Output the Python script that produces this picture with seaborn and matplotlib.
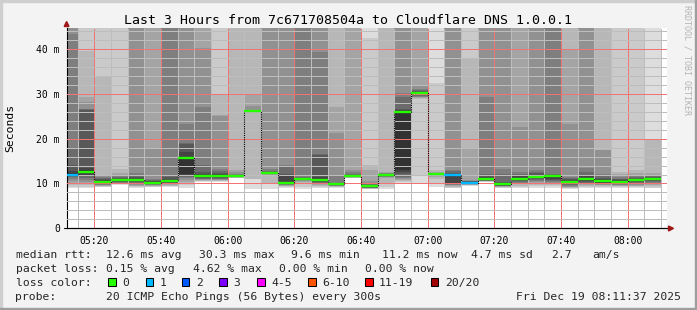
import matplotlib
matplotlib.use("Agg")
import matplotlib.pyplot as plt
import seaborn as sns
from matplotlib.patches import Rectangle, Polygon
from matplotlib.lines import Line2D
from matplotlib.ticker import MultipleLocator

# ---------------- data ----------------
title_text = "Last 3 Hours from 7c671708504a to Cloudflare DNS 1.0.0.1"
window_start = "05:11:37"
window_end = "08:11:37"
slot_minutes = 5
y_top_ms = 44.7
y_ticks_ms = [0, 10, 20, 30, 40]
y_tick_labels = ["0", "10 m", "20 m", "30 m", "40 m"]
x_tick_labels = ["05:20", "05:40", "06:00", "06:20", "06:40", "07:00", "07:20", "07:40", "08:00"]

slot_times = ["05:10", "05:15", "05:20", "05:25", "05:30", "05:35", "05:40", "05:45", "05:50",
              "05:55", "06:00", "06:05", "06:10", "06:15", "06:20", "06:25", "06:30", "06:35",
              "06:40", "06:45", "06:50", "06:55", "07:00", "07:05", "07:10", "07:15", "07:20",
              "07:25", "07:30", "07:35", "07:40", "07:45", "07:50", "07:55", "08:00", "08:05"]

median_rtt = [12.0, 12.6, 10.3, 10.7, 10.85, 10.2, 10.6, 15.8, 11.7, 11.7, 11.7, 26.25,
              12.4, 10.2, 11.1, 10.8, 9.9, 11.7, 9.4, 11.9, 26.0, 30.3, 12.05, 12.0,
              10.2, 11.0, 9.8, 11.1, 11.5, 11.7, 10.4, 11.0, 10.55, 10.3, 10.8, 11.1]

loss_count = [1, 0, 0, 0, 0, 0, 0, 0, 0, 0, 0, 0, 0, 0, 0, 0, 0, 0,
              0, 0, 0, 0, 0, 1, 1, 0, 0, 0, 0, 0, 0, 0, 0, 0, 0, 0]

# 20 sorted ping RTTs (ms) per 5-minute slot; 60 = beyond the top of the graph
pings_0510 = [9.0, 9.3, 9.6, 10.0, 10.5, 11.0, 11.4, 11.7, 11.9, 12.0, 12.3, 12.8, 14.1, 17.6, 43.4, 60, 60, 60, 60, 60]
pings_0515 = [8.9, 9.2, 9.6, 10.0, 10.4, 10.8, 11.2, 11.6, 12.0, 12.4, 12.9, 13.5, 26.5, 26.6, 26.7, 28.2, 29.4, 39.6, 60, 60]
pings_0520 = [9.2, 9.3, 9.4, 9.5, 9.6, 9.7, 9.8, 9.9, 10.0, 10.2, 10.5, 10.8, 11.0, 11.3, 11.5, 11.7, 12.0, 33.8, 60, 60]
pings_0525 = [9.6, 9.8, 9.9, 10.0, 10.1, 10.2, 10.3, 10.4, 10.5, 10.6, 10.8, 11.0, 11.2, 11.4, 11.7, 12.0, 12.4, 13.2, 60, 60]
pings_0530 = [9.0, 9.2, 9.4, 9.5, 9.7, 9.9, 10.1, 10.3, 10.5, 10.7, 11.0, 11.2, 11.5, 11.9, 12.4, 60, 60, 60, 60, 60]
pings_0535 = [9.2, 9.3, 9.4, 9.5, 9.6, 9.7, 9.8, 9.9, 10.0, 10.1, 10.3, 10.5, 10.6, 10.7, 10.9, 18.0, 60, 60, 60, 60]
pings_0540 = [9.2, 9.4, 9.5, 9.6, 9.8, 9.9, 10.0, 10.1, 10.3, 10.5, 10.8, 11.1, 11.4, 11.9, 60, 60, 60, 60, 60, 60]
pings_0545 = [9.1, 9.6, 10.0, 10.4, 10.8, 11.2, 11.5, 11.8, 12.0, 12.2, 16.0, 17.0, 18.8, 19.1, 23.3, 60, 60, 60, 60, 60]
pings_0550 = [10.3, 10.5, 10.6, 10.7, 10.8, 10.9, 11.0, 11.2, 11.4, 11.6, 11.9, 12.2, 12.6, 14.1, 27.1, 40.3, 60, 60, 60, 60]
pings_0555 = [10.3, 10.5, 10.6, 10.7, 10.8, 10.9, 11.0, 11.2, 11.4, 11.6, 11.9, 12.1, 12.4, 12.8, 13.3, 25.0, 25.2, 29.9, 60, 60]
pings_0600 = [11.2, 11.25, 11.3, 11.35, 11.4, 11.45, 11.5, 11.55, 11.6, 11.65, 11.75, 11.8, 11.9, 12.0, 12.2, 12.5, 13.0, 60, 60, 60]
pings_0605 = [8.8, 11.0, 11.1, 25.9, 26.0, 26.05, 26.1, 26.15, 26.2, 26.23, 26.27, 26.3, 26.35, 26.4, 26.5, 27.3, 29.9, 60, 60, 60]
pings_0610 = [8.8, 10.1, 10.2, 12.0, 12.05, 12.1, 12.15, 12.2, 12.3, 12.35, 12.45, 12.5, 12.6, 12.8, 13.2, 60, 60, 60, 60, 60]
pings_0615 = [9.1, 9.25, 9.4, 9.5, 9.6, 9.7, 9.8, 9.9, 10.0, 10.1, 10.4, 12.0, 12.05, 14.0, 14.1, 60, 60, 60, 60, 60]
pings_0620 = [8.8, 9.3, 10.0, 10.4, 10.6, 10.7, 10.8, 10.9, 11.0, 11.05, 11.15, 11.2, 11.3, 11.4, 60, 60, 60, 60, 60, 60]
pings_0625 = [9.1, 9.3, 9.5, 9.7, 9.9, 10.0, 10.1, 10.3, 10.5, 10.7, 11.0, 11.5, 16.3, 16.5, 39.4, 60, 60, 60, 60, 60]
pings_0630 = [9.1, 9.2, 9.3, 9.35, 9.4, 9.5, 9.6, 9.7, 9.8, 9.85, 9.95, 10.0, 10.1, 10.2, 11.9, 21.3, 27.1, 60, 60, 60]
pings_0635 = [11.2, 11.25, 11.3, 11.35, 11.4, 11.45, 11.5, 11.55, 11.6, 11.65, 11.8, 11.9, 12.0, 12.2, 12.5, 13.0, 60, 60, 60, 60]
pings_0640 = [8.7, 8.8, 8.85, 8.9, 8.95, 9.0, 9.1, 9.2, 9.3, 9.35, 9.5, 9.6, 9.7, 9.8, 10.0, 10.5, 13.0, 14.1, 42.4, 60]
pings_0645 = [8.7, 9.2, 9.8, 11.3, 11.4, 11.5, 11.6, 11.7, 11.8, 11.85, 11.95, 12.0, 12.1, 12.2, 12.3, 12.4, 12.6, 60, 60, 60]
pings_0650 = [10.2, 10.4, 10.6, 10.8, 11.0, 11.2, 11.5, 12.2, 12.6, 12.9, 26.1, 26.3, 26.6, 29.2, 30.3, 60, 60, 60, 60, 60]
pings_0655 = [10.2, 11.9, 28.8, 29.0, 29.2, 29.4, 29.6, 29.8, 30.0, 30.2, 30.4, 30.5, 30.6, 30.8, 31.0, 31.8, 60, 60, 60, 60]
pings_0700 = [9.3, 10.0, 11.0, 11.5, 11.6, 11.7, 11.8, 11.9, 12.0, 12.03, 12.07, 12.1, 12.15, 12.2, 12.3, 12.4, 12.6, 13.0, 32.4, 60]
pings_0705 = [8.9, 9.1, 9.3, 9.5, 9.6, 9.7, 9.8, 9.9, 10.0, 11.9, 12.1, 12.2, 12.4, 12.7, 13.0, 60, 60, 60, 60, 60]
pings_0710 = [9.5, 9.6, 9.7, 9.75, 9.8, 9.85, 9.9, 9.95, 10.0, 10.1, 10.3, 10.4, 10.45, 10.5, 10.6, 10.8, 17.9, 37.9, 60, 60]
pings_0715 = [10.3, 10.4, 10.45, 10.5, 10.55, 10.6, 10.65, 10.7, 10.8, 10.9, 11.2, 11.5, 11.8, 12.1, 29.2, 60, 60, 60, 60, 60]
pings_0720 = [8.9, 9.1, 9.2, 9.3, 9.35, 9.4, 9.45, 9.5, 9.6, 9.7, 9.9, 10.1, 10.3, 12.1, 13.2, 60, 60, 60, 60, 60]
pings_0725 = [8.9, 9.2, 9.5, 9.8, 10.0, 10.2, 10.4, 10.6, 10.8, 11.0, 11.3, 11.6, 11.9, 12.2, 12.6, 22.7, 60, 60, 60, 60]
pings_0730 = [9.1, 9.4, 9.7, 10.0, 10.3, 10.6, 10.8, 11.0, 11.2, 11.4, 11.7, 12.0, 12.3, 12.6, 12.9, 60, 60, 60, 60, 60]
pings_0735 = [9.1, 9.4, 9.7, 10.0, 10.2, 10.4, 10.6, 10.8, 11.0, 11.6, 11.8, 11.9, 12.0, 12.1, 60, 60, 60, 60, 60, 60]
pings_0740 = [8.7, 8.9, 9.0, 9.2, 9.3, 9.5, 9.7, 9.9, 10.1, 10.3, 10.6, 10.8, 11.0, 11.2, 11.5, 23.3, 40.0, 60, 60, 60]
pings_0745 = [8.9, 9.2, 9.4, 9.6, 9.8, 10.0, 10.2, 10.4, 10.6, 10.9, 11.2, 11.6, 12.0, 12.5, 13.4, 60, 60, 60, 60, 60]
pings_0750 = [9.1, 9.3, 9.5, 9.6, 9.7, 9.8, 9.9, 10.0, 10.2, 10.4, 10.7, 11.0, 11.3, 11.6, 12.1, 17.4, 17.5, 60, 60, 60]
pings_0755 = [9.1, 9.25, 9.4, 9.5, 9.6, 9.7, 9.8, 9.9, 10.0, 10.2, 10.5, 10.7, 10.9, 11.1, 11.4, 11.8, 12.2, 12.6, 60, 60]
pings_0800 = [9.1, 9.25, 9.4, 9.5, 9.7, 9.9, 10.1, 10.3, 10.5, 10.7, 10.9, 11.0, 11.2, 11.4, 11.7, 12.0, 12.4, 12.9, 60, 60]
pings_0805 = [8.9, 9.1, 9.4, 9.7, 10.0, 10.2, 10.4, 10.6, 10.8, 11.0, 11.2, 11.3, 11.4, 11.6, 11.8, 12.0, 12.3, 19.8, 19.9, 60]

slot_pings = [pings_0510, pings_0515, pings_0520, pings_0525, pings_0530, pings_0535,
              pings_0540, pings_0545, pings_0550, pings_0555, pings_0600, pings_0605,
              pings_0610, pings_0615, pings_0620, pings_0625, pings_0630, pings_0635,
              pings_0640, pings_0645, pings_0650, pings_0655, pings_0700, pings_0705,
              pings_0710, pings_0715, pings_0720, pings_0725, pings_0730, pings_0735,
              pings_0740, pings_0745, pings_0750, pings_0755, pings_0800, pings_0805]

loss_legend_labels = ["0", "1", "2", "3", "4-5", "6-10", "11-19", "20/20"]
loss_legend_colors = ["#26ff00", "#00b8ff", "#0059ff", "#7e00ff", "#ff00ff", "#ff5500", "#ff0000", "#a00000"]

median_stats = ["12.6 ms avg", "30.3 ms max", "9.6 ms min", "11.2 ms now", "4.7 ms sd", "2.7", "am/s"]
loss_stats = ["0.15 % avg", "4.62 % max", "0.00 % min", "0.00 % now"]
probe_text = "20 ICMP Echo Pings (56 Bytes) every 300s"
stamp_text = "Fri Dec 19 08:11:37 2025"
watermark = "RRDTOOL / TOBI OETIKER"

# ---------------- helpers ----------------
def to_minutes(hhmm):
    parts = [int(v) for v in hhmm.split(":")]
    sec = parts[2] if len(parts) > 2 else 0
    return (parts[0] - 5) * 60 + parts[1] + sec / 60.0


def smoke_gray(band, n):
    half = n / 2.0
    ibot = min(band + 1, n - 1 - band)
    v = int(190.0 / half * (half - ibot)) + 50
    return "#%02x%02x%02x" % (v, v, v)


def loss_color(n):
    if n <= 3:
        return loss_legend_colors[n]
    if n <= 5:
        return loss_legend_colors[4]
    if n <= 10:
        return loss_legend_colors[5]
    if n <= 19:
        return loss_legend_colors[6]
    return loss_legend_colors[7]

# ---------------- figure ----------------
sns.set_theme(style="white")
MONO = ["DejaVu Sans Mono", "DejaVu Sans"]
plt.rcParams["font.family"] = MONO

W, H = 697, 310
fig = plt.figure(figsize=(W / 100, H / 100), dpi=100, facecolor="#f3f3f3")


def fx(x):
    return x / W


def fy(y):
    return 1 - y / H


L, R, T, B = 66.5, 666.5, 28.0, 228.3
ax = fig.add_axes([fx(L), fy(B), fx(R) - fx(L), fy(T) - fy(B)])
ax.set_facecolor("white")

starts = [to_minutes(t) for t in slot_times]

# smoke
for x0, pings in zip(starts, slot_pings):
    p = sorted(pings)
    n = len(p)
    for j in range(n - 1):
        lo, hi = p[j], p[j + 1]
        if hi > lo:
            ax.bar(x0, hi - lo, bottom=lo, width=slot_minutes, align="edge",
                   color=smoke_gray(j, n), linewidth=0, antialiased=False, zorder=1)

# median outline (steps) and loss-coloured median segments
step_x = starts + [starts[-1] + slot_minutes]
step_y = median_rtt + [median_rtt[-1]]
sns.lineplot(x=step_x, y=step_y, drawstyle="steps-post", color="black", linewidth=0.8,
             linestyle=(0, (1, 1)), ax=ax, estimator=None, sort=False, zorder=4)
ax.hlines(median_rtt, starts, [s + slot_minutes for s in starts],
          colors=[loss_color(c) for c in loss_count], linewidth=1.7, zorder=5)

ax.set_xlim(to_minutes(window_start), to_minutes(window_end))
ax.set_ylim(0, y_top_ms)

ax.set_xticks([to_minutes(t) for t in x_tick_labels])
ax.set_xticklabels(x_tick_labels)
ax.xaxis.set_minor_locator(MultipleLocator(slot_minutes))
ax.set_yticks(y_ticks_ms)
ax.set_yticklabels(y_tick_labels)
ax.yaxis.set_minor_locator(MultipleLocator(2))

ax.set_axisbelow(False)
ax.grid(which="minor", color=(0.74, 0.74, 0.74, 0.8), linestyle=(0, (1, 1)),
        linewidth=0.72, antialiased=False)
ax.grid(which="major", color=(0.95, 0.45, 0.45, 0.6), linestyle=(0, (1, 1)),
        linewidth=0.72, antialiased=False)

ax.tick_params(which="major", direction="out", length=2.6, width=0.72, color="black",
               labelsize=7, pad=2.2)
ax.tick_params(which="minor", direction="out", length=1.5, width=0.72, color="black")
ax.tick_params(axis="x", which="major", pad=2.6)
for lab in ax.get_xticklabels() + ax.get_yticklabels():
    lab.set_family(MONO)
    lab.set_color("black")

for s in ["top", "right"]:
    ax.spines[s].set_visible(False)
for s in ["left", "bottom"]:
    ax.spines[s].set_color("black")
    ax.spines[s].set_linewidth(0.8)

# arrows at the axis ends
arrow_col = "#a01818"
fig.patches.append(Polygon([(fx(64.2), fy(26.5)), (fx(69.0), fy(26.5)), (fx(66.6), fy(21.5))],
                           closed=True, transform=fig.transFigure, color=arrow_col, zorder=10))
fig.lines.append(Line2D([fx(63.5), fx(671)], [fy(B), fy(B)], transform=fig.transFigure,
                        color="black", linewidth=0.8))
fig.patches.append(Polygon([(fx(668.5), fy(226.0)), (fx(668.5), fy(231.0)), (fx(673.5), fy(228.4))],
                           closed=True, transform=fig.transFigure, color=arrow_col, zorder=10))

# frame shading
fig.patches.append(Rectangle((0, 1 - 2 / H), 1, 2 / H, transform=fig.transFigure,
                             color="#cfcfcf", zorder=0))
fig.patches.append(Rectangle((0, 0), 2 / W, 1, transform=fig.transFigure, color="#cfcfcf", zorder=0))
fig.patches.append(Rectangle((0, 0), 1, 2 / H, transform=fig.transFigure, color="#9e9e9e", zorder=0))
fig.patches.append(Rectangle((1 - 2 / W, 0), 2 / W, 1, transform=fig.transFigure, color="#9e9e9e", zorder=0))

# texts
fig.text(fx(347.5), fy(24.3), title_text, ha="center", va="baseline", fontsize=9.5,
         family=MONO, color="black")
fig.text(fx(10.5), fy(127.5), "Seconds", rotation=90, ha="center", va="center",
         fontsize=8.2, family=MONO, color="black")
fig.text(fx(687.5), fy(60), watermark, rotation=270, ha="center", va="center",
         fontsize=6, family=MONO, color="#b4b4b4")

fs = 8.2
base = [257.8, 271.7, 285.7, 299.8]
fig.text(fx(15.5), fy(base[0]), "median rtt:", fontsize=fs, family=MONO, va="baseline")
for xp, s in zip([106.5, 199.3, 291.0, 382.3, 471.0, 551.0, 592.6], median_stats):
    fig.text(fx(xp), fy(base[0]), s, fontsize=fs, family=MONO, va="baseline")
fig.text(fx(15.5), fy(base[1]), "packet loss:", fontsize=fs, family=MONO, va="baseline")
for xp, s in zip([106.5, 192.6, 278.6, 365.0], loss_stats):
    fig.text(fx(xp), fy(base[1]), s, fontsize=fs, family=MONO, va="baseline")
fig.text(fx(15.5), fy(base[2]), "loss color:", fontsize=fs, family=MONO, va="baseline")
box_x = [108.3, 145.7, 181.7, 219.2, 257.3, 308.3, 365.0, 430.7]
text_x = [122.6, 160.0, 196.6, 233.3, 271.0, 322.0, 378.6, 445.0]
for bx, tx, lab, col in zip(box_x, text_x, loss_legend_labels, loss_legend_colors):
    fig.patches.append(Rectangle((fx(bx), fy(286.3)), 7.7 / W, 8.0 / H, transform=fig.transFigure,
                                 facecolor=col, edgecolor="black", linewidth=0.75, zorder=5))
    fig.text(fx(tx), fy(base[2]), lab, fontsize=fs, family=MONO, va="baseline")
fig.text(fx(15.5), fy(base[3]), "probe:", fontsize=fs, family=MONO, va="baseline")
fig.text(fx(106.5), fy(base[3]), probe_text, fontsize=fs, family=MONO, va="baseline")
fig.text(fx(680.5), fy(base[3]), stamp_text, fontsize=fs, family=MONO, va="baseline", ha="right")

fig.savefig("out.png", dpi=100, facecolor=fig.get_facecolor())
